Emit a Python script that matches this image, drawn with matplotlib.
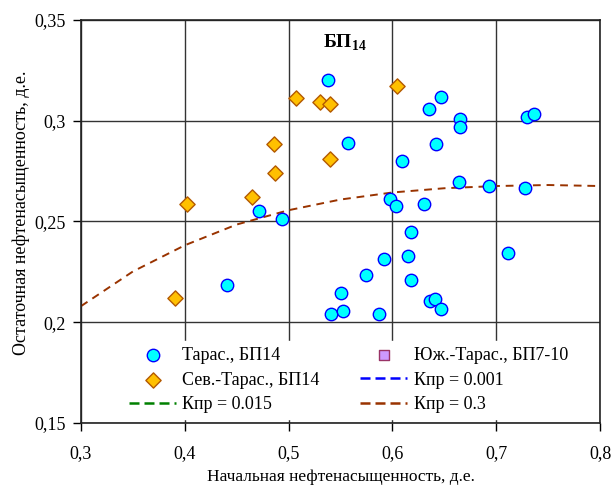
import matplotlib.pyplot as plt
from matplotlib.ticker import FuncFormatter

plt.rcParams['font.family'] = ['Liberation Serif', 'DejaVu Serif']
plt.rcParams['mathtext.fontset'] = 'custom'
plt.rcParams['mathtext.rm'] = 'Liberation Serif'
plt.rcParams['mathtext.bf'] = 'Liberation Serif:bold'

# Тарас., БП14
taras_x = [0.538, 0.647, 0.635, 0.665, 0.665, 0.730, 0.736, 0.557, 0.642, 0.609,
           0.664, 0.693, 0.728, 0.598, 0.603, 0.630, 0.471, 0.494, 0.618, 0.711,
           0.592, 0.615, 0.575, 0.618, 0.441, 0.550, 0.636, 0.641, 0.647, 0.541,
           0.552, 0.587]
taras_y = [0.320, 0.312, 0.306, 0.3007, 0.297, 0.302, 0.3035, 0.289, 0.2884, 0.280,
           0.2694, 0.2677, 0.2664, 0.2613, 0.2576, 0.2588, 0.2551, 0.2513, 0.2447, 0.2344,
           0.2315, 0.2331, 0.2235, 0.2209, 0.2185, 0.2144, 0.2106, 0.2116, 0.2065, 0.2043,
           0.2055, 0.2043]

# Сев.-Тарас., БП14
sev_x = [0.604, 0.507, 0.530, 0.540, 0.486, 0.540, 0.487, 0.465, 0.402, 0.391]
sev_y = [0.3172, 0.3111, 0.3093, 0.3081, 0.2884, 0.2808, 0.2742, 0.2623, 0.2589, 0.2121]

# Юж.-Тарас., БП7-10 (нет точек в диапазоне графика)
yuzh_x = []
yuzh_y = []

# расчетная кривая, Кпр = 0.3
kpr_x = [0.30, 0.35, 0.40, 0.45, 0.50, 0.55, 0.60, 0.65, 0.70, 0.75, 0.80]
kpr_03 = [0.208, 0.2252, 0.2382, 0.2485, 0.2556, 0.2609, 0.2644, 0.2665, 0.2676, 0.2681, 0.2676]

fig = plt.figure(figsize=(6.11, 4.86), dpi=100)
ax = fig.add_axes([0.1326, 0.1296, 0.8494, 0.8293])

ax.grid(True, color='#333333', linewidth=1, zorder=0)
ax.set_axisbelow(True)

ax.plot(kpr_x, kpr_03, color='#993300', linestyle=(0, (4, 3)), linewidth=1.4, zorder=2)

h1 = ax.scatter(taras_x, taras_y, s=80, c='#00FFFF', edgecolors='#0000FF',
                linewidths=1.0, marker='o', zorder=3)
h2 = ax.scatter(sev_x, sev_y, s=60, c='#FFC000', edgecolors='#B35900',
                linewidths=1.0, marker='D', zorder=3)
h3 = ax.scatter(yuzh_x, yuzh_y, s=60, c='#CC99FF', edgecolors='#993366',
                linewidths=1.0, marker='s')
l1, = ax.plot([], [], color='#0000FF', linestyle=(0, (4, 2)), linewidth=1.8)
l2, = ax.plot([], [], color='#008000', linestyle=(0, (4, 2)), linewidth=1.8)
l3, = ax.plot([], [], color='#993300', linestyle=(0, (4, 2)), linewidth=1.8)

leg = ax.legend([h1, h2, l2, h3, l1, l3],
                ['Тарас., БП14', 'Сев.-Тарас., БП14', 'Кпр = 0.015',
                 'Юж.-Тарас., БП7-10', 'Кпр = 0.001', 'Кпр = 0.3'],
                ncol=2, loc='upper left', bbox_to_anchor=(0.065, 0.225),
                frameon=True, fancybox=False, framealpha=1, edgecolor='white',
                fontsize=13, handlelength=2.6, handletextpad=0.35,
                columnspacing=2.25, labelspacing=0.43, borderpad=0.3)
leg.set_zorder(2.2)

ax.text(0.533, 0.3385, r'БП$_{\mathbf{14}}$', fontsize=14, fontweight='bold',
        va='center', ha='left', zorder=5)

ax.set_xlim(0.3, 0.8)
ax.set_ylim(0.15, 0.35)
ax.set_xticks([0.3, 0.4, 0.5, 0.6, 0.7, 0.8])
ax.set_yticks([0.15, 0.2, 0.25, 0.3, 0.35])
fmt = FuncFormatter(lambda v, p: ('%g' % round(v, 2)).replace('.', ','))
ax.xaxis.set_major_formatter(fmt)
ax.yaxis.set_major_formatter(fmt)
ax.tick_params(direction='out', length=6, width=1, labelsize=13)
ax.tick_params(axis='x', pad=10)
ax.tick_params(axis='y', pad=5)

for s in ax.spines.values():
    s.set_linewidth(1.2)
    s.set_color('#222222')

ax.set_xlabel('Начальная нефтенасыщенность, д.е.', fontsize=12.5, labelpad=5)
ax.set_ylabel('Остаточная нефтенасыщенность, д.е.', fontsize=13)
ax.yaxis.set_label_coords(-0.098, 0.521)

fig.savefig('out.png', dpi=100)
